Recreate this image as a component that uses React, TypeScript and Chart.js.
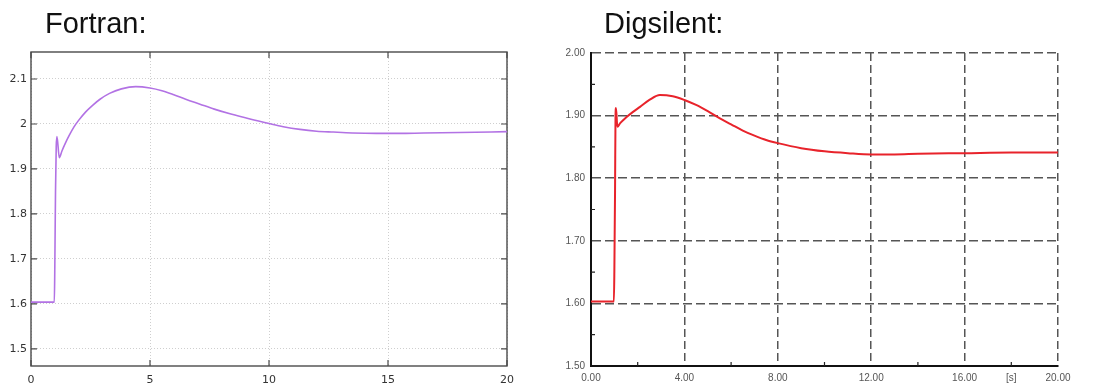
import React, { useEffect, useRef } from "react";
import { Chart, registerables } from "chart.js";

Chart.register(...registerables);

// ---------- data ----------
const fortranTime = [0, 0.98, 1.0, 1.03, 1.06, 1.09, 1.19, 1.3, 1.45, 1.6, 1.8, 2.0, 2.3, 2.6, 2.9, 3.3, 3.8, 4.4, 5.0, 5.5, 6.0, 6.5, 7.1, 7.7, 8.4, 9.2, 10.0, 10.6, 11.3, 12.0, 12.7, 13.5, 14.5, 15.5, 16.5, 18.0, 20.0];
const fortranValue = [1.604, 1.604, 1.68, 1.85, 1.95, 1.972, 1.925, 1.94, 1.958, 1.974, 1.993, 2.008, 2.027, 2.042, 2.055, 2.068, 2.078, 2.083, 2.08, 2.074, 2.065, 2.055, 2.044, 2.033, 2.022, 2.011, 2.001, 1.994, 1.988, 1.984, 1.982, 1.98, 1.979, 1.979, 1.98, 1.981, 1.983];

const digsilentTime = [0, 0.98, 1.0, 1.03, 1.05, 1.07, 1.13, 1.25, 1.5, 1.8, 2.1, 2.5, 2.95, 3.5, 4.0, 4.5, 5.0, 5.5, 6.0, 6.5, 7.0, 7.5, 8.0, 9.0, 10.0, 11.0, 12.0, 13.0, 14.0, 16.0, 18.0, 20.0];
const digsilentValue = [1.603, 1.603, 1.65, 1.78, 1.9, 1.912, 1.882, 1.888, 1.897, 1.906, 1.914, 1.925, 1.933, 1.931, 1.925, 1.917, 1.907, 1.896, 1.886, 1.876, 1.868, 1.861, 1.856, 1.848, 1.843, 1.84, 1.838, 1.838, 1.839, 1.84, 1.841, 1.841];

const fortranXTicks = [0, 5, 10, 15, 20];
const fortranYTicks = [1.5, 1.6, 1.7, 1.8, 1.9, 2.0, 2.1];
const fortranYLabels = ["1.5", "1.6", "1.7", "1.8", "1.9", "2", "2.1"];

const digsilentXTicks = [0, 2, 4, 6, 8, 10, 12, 14, 16, 18, 20];
const digsilentXLabels = ["0.00", "", "4.00", "", "8.00", "", "12.00", "", "16.00", "[s]", "20.00"];
const digsilentXMajor = [true, false, true, false, true, false, true, false, true, false, true];
const digsilentYTicks = [1.5, 1.55, 1.6, 1.65, 1.7, 1.75, 1.8, 1.85, 1.9, 1.95, 2.0];
const digsilentYLabels = ["1.50", "", "1.60", "", "1.70", "", "1.80", "", "1.90", "", "2.00"];

const toPoints = (xs: number[], ys: number[]) => xs.map((x, i) => ({ x, y: ys[i] }));

// ---------- plugins ----------
const fortranFrame = {
  id: "fortranFrame",
  beforeDatasetsDraw(chart: any) {
    const { ctx, chartArea: a, scales } = chart;
    ctx.save();
    ctx.strokeStyle = "#4a4a4a";
    ctx.lineWidth = 1.4;
    ctx.strokeRect(a.left, a.top, a.right - a.left, a.bottom - a.top);
    const len = 6;
    ctx.lineWidth = 1.2;
    ctx.beginPath();
    fortranYTicks.forEach((v) => {
      const y = scales.y.getPixelForValue(v);
      ctx.moveTo(a.left, y);
      ctx.lineTo(a.left + len, y);
      ctx.moveTo(a.right, y);
      ctx.lineTo(a.right - len, y);
    });
    fortranXTicks.forEach((v) => {
      const x = scales.x.getPixelForValue(v);
      ctx.moveTo(x, a.bottom);
      ctx.lineTo(x, a.bottom - len);
      ctx.moveTo(x, a.top);
      ctx.lineTo(x, a.top + len);
    });
    ctx.stroke();
    ctx.restore();
  },
};

const digsilentTicks = {
  id: "digsilentTicks",
  afterDraw(chart: any) {
    const { ctx, chartArea: a, scales } = chart;
    ctx.save();
    ctx.strokeStyle = "#222";
    ctx.lineWidth = 1.2;
    ctx.beginPath();
    digsilentYTicks.forEach((v, i) => {
      if (digsilentYLabels[i] !== "") return;
      const y = scales.y.getPixelForValue(v);
      ctx.moveTo(a.left, y);
      ctx.lineTo(a.left + 4, y);
    });
    digsilentXTicks.forEach((v, i) => {
      if (digsilentXMajor[i]) return;
      const x = scales.x.getPixelForValue(v);
      ctx.moveTo(x, a.bottom);
      ctx.lineTo(x, a.bottom - 4);
    });
    ctx.stroke();
    ctx.restore();
  },
};

function FortranChart() {
  const ref = useRef<HTMLCanvasElement>(null);
  useEffect(() => {
    const chart = new Chart(ref.current!, {
      type: "line",
      data: {
        datasets: [
          {
            data: toPoints(fortranTime, fortranValue),
            borderColor: "#b272e4",
            borderWidth: 1.6,
            pointRadius: 0,
            cubicInterpolationMode: "monotone",
          },
        ],
      },
      options: {
        responsive: false,
        animation: false,
        devicePixelRatio: 1,
        layout: { padding: { top: 52, right: 42, left: 0, bottom: 0 } },
        plugins: { legend: { display: false }, tooltip: { enabled: false } },
        scales: {
          x: {
            type: "linear",
            min: 0,
            max: 20,
            afterFit: (s: any) => { s.height = 24; },
            afterBuildTicks: (s: any) => { s.ticks = fortranXTicks.map((v) => ({ value: v })); },
            ticks: {
              padding: 8,
              maxRotation: 0,
              font: { family: "DejaVu Sans", size: 11 },
              color: "#333",
              callback: (v: any) => String(v),
            },
            grid: { color: "#cfcfcf", drawTicks: false, lineWidth: 1 },
            border: { display: false, dash: [1, 2] },
          },
          y: {
            type: "linear",
            min: 1.462,
            max: 2.16,
            afterFit: (s: any) => { s.width = 31; },
            afterBuildTicks: (s: any) => { s.ticks = fortranYTicks.map((v) => ({ value: v })); },
            ticks: {
              padding: 4,
              font: { family: "DejaVu Sans", size: 11 },
              color: "#333",
              callback: (_v: any, i: number) => fortranYLabels[i],
            },
            grid: { color: "#cfcfcf", drawTicks: false, lineWidth: 1 },
            border: { display: false, dash: [1, 2] },
          },
        },
      } as any,
      plugins: [fortranFrame],
    });
    return () => chart.destroy();
  }, []);
  return <canvas ref={ref} width={549} height={390} style={{ position: "absolute", left: 0, top: 0 }} />;
}

function DigsilentChart() {
  const ref = useRef<HTMLCanvasElement>(null);
  useEffect(() => {
    const chart = new Chart(ref.current!, {
      type: "line",
      data: {
        datasets: [
          {
            data: toPoints(digsilentTime, digsilentValue),
            borderColor: "#e8232b",
            borderWidth: 2,
            pointRadius: 0,
            cubicInterpolationMode: "monotone",
          },
        ],
      },
      options: {
        responsive: false,
        animation: false,
        devicePixelRatio: 1,
        layout: { padding: { top: 53, right: 41, left: 0, bottom: 0 } },
        plugins: { legend: { display: false }, tooltip: { enabled: false } },
        scales: {
          x: {
            type: "linear",
            min: 0,
            max: 20,
            afterFit: (s: any) => { s.height = 24; },
            afterBuildTicks: (s: any) => { s.ticks = digsilentXTicks.map((v) => ({ value: v })); },
            ticks: {
              padding: 6,
              maxRotation: 0,
              autoSkip: false,
              font: { family: "Liberation Sans", size: 10 },
              color: "#555",
              callback: (_v: any, i: number) => digsilentXLabels[i],
            },
            grid: {
              drawTicks: false,
              lineWidth: 1.5,
              color: (c: any) => (digsilentXMajor[c.index] ? "#555" : "rgba(0,0,0,0)"),
            },
            border: { display: true, color: "#111", width: 2, dash: [8, 4] },
          },
          y: {
            type: "linear",
            min: 1.5,
            max: 2.0,
            afterFit: (s: any) => { s.width = 42; },
            afterBuildTicks: (s: any) => { s.ticks = digsilentYTicks.map((v) => ({ value: v })); },
            ticks: {
              padding: 6,
              autoSkip: false,
              font: { family: "Liberation Sans", size: 10 },
              color: "#555",
              callback: (_v: any, i: number) => digsilentYLabels[i],
            },
            grid: {
              drawTicks: false,
              lineWidth: 1.5,
              color: (c: any) => (digsilentYLabels[c.index] !== "" ? "#555" : "rgba(0,0,0,0)"),
            },
            border: { display: true, color: "#111", width: 2, dash: [9, 4] },
          },
        },
      } as any,
      plugins: [digsilentTicks],
    });
    return () => chart.destroy();
  }, []);
  return <canvas ref={ref} width={550} height={390} style={{ position: "absolute", left: 549, top: 0 }} />;
}

export default function App() {
  const titleStyle: React.CSSProperties = {
    position: "absolute",
    top: 9,
    fontFamily: "'Liberation Sans', Arial, sans-serif",
    fontSize: 29,
    lineHeight: "29px",
    color: "#111",
    whiteSpace: "nowrap",
  };
  return (
    <div style={{ position: "absolute", left: 0, top: 0, width: 1099, height: 390, background: "#fff", overflow: "hidden" }}>
      <FortranChart />
      <DigsilentChart />
      <div style={{ ...titleStyle, left: 45 }}>Fortran:</div>
      <div style={{ ...titleStyle, left: 604 }}>Digsilent:</div>
    </div>
  );
}
